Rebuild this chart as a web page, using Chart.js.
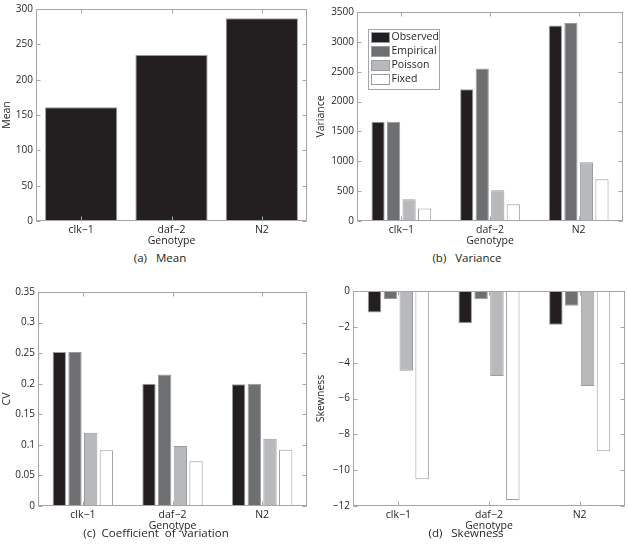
<!DOCTYPE html>
<html>
<head>
<meta charset="utf-8">
<script src="https://cdn.jsdelivr.net/npm/chart.js@4.4.1/dist/chart.umd.min.js"></script>
<style>
body { margin: 0; background: #fff; width: 628px; height: 553px; position: relative; overflow: hidden; font-family: "Open Sans", sans-serif; }
canvas { position: absolute; }
.cap { position: absolute; font-size: 11.5px; color: #231f20; white-space: pre; transform: translateX(-50%); }
</style>
</head>
<body>
<canvas id="cMean" width="314" height="250" style="left:0;top:0"></canvas>
<canvas id="cVar" width="314" height="250" style="left:314px;top:0"></canvas>
<canvas id="cCv" width="314" height="259" style="left:0;top:276px"></canvas>
<canvas id="cSkew" width="314" height="259" style="left:314px;top:276px"></canvas>
<div class="cap" style="left:160px;top:250px">(a)   Mean</div>
<div class="cap" style="left:467px;top:250px">(b)   Variance</div>
<div class="cap" style="left:156px;top:525px">(c)  Coefficient  of  variation</div>
<div class="cap" style="left:466px;top:525px">(d)   Skewness</div>
<script>
// categorias y series
var genotypes = ['clk\u22121', 'daf\u22122', 'N2'];
var seriesNames = ['Observed', 'Empirical', 'Poisson', 'Fixed'];

var meanValues = [161, 235, 287];

var varObserved = [1660, 2205, 3275];
var varEmpirical = [1660, 2555, 3315];
var varPoisson = [365, 515, 985];
var varFixed = [210, 280, 700];

var cvObserved = [0.252, 0.2, 0.199];
var cvEmpirical = [0.252, 0.215, 0.2];
var cvPoisson = [0.12, 0.098, 0.11];
var cvFixed = [0.091, 0.073, 0.092];

var skObserved = [-1.2, -1.8, -1.88];
var skEmpirical = [-0.45, -0.46, -0.82];
var skPoisson = [-4.45, -4.75, -5.3];
var skFixed = [-10.5, -11.67, -8.95];

var yTicksMean = [0, 300, 50];
var yTicksVar = [0, 3500, 500];
var yTicksCv = [0, 0.35, 0.05];
var yTicksSkew = [-12, 0, 2];

var fills = ['#231f20', '#6d6f71', '#b7b9bb', '#ffffff'];
var FONT = '"Open Sans", sans-serif';
var TEXT = '#231f20';
var AXIS = '#a3a5a8';

// caja estilo matlab con ticks hacia dentro
var boxPlugin = {
    id: 'matlabBox',
    afterDraw: function(chart) {
        var ctx = chart.ctx;
        var a = chart.chartArea;
        var ys = chart.scales.y, xs = chart.scales.x;
        ctx.save();
        ctx.strokeStyle = AXIS;
        ctx.lineWidth = 1;
        var l = Math.round(a.left) + 0.5, r = Math.round(a.right) - 0.5;
        var t = Math.round(a.top) + 0.5, b = Math.round(a.bottom) - 0.5;
        ctx.strokeRect(l, t, r - l, b - t);
        ctx.beginPath();
        ys.ticks.forEach(function(tk) {
            var py = Math.round(ys.getPixelForValue(tk.value)) + 0.5;
            ctx.moveTo(l, py); ctx.lineTo(l + 4, py);
            ctx.moveTo(r, py); ctx.lineTo(r - 4, py);
        });
        for (var i = 0; i < genotypes.length; i++) {
            var px = Math.round(xs.getPixelForValue(i)) + 0.5;
            ctx.moveTo(px, b); ctx.lineTo(px, b - 4);
            ctx.moveTo(px, t); ctx.lineTo(px, t + 4);
        }
        ctx.stroke();
        ctx.restore();
    }
};

// leyenda dentro del panel (b)
var legendPlugin = {
    id: 'boxLegend',
    afterDraw: function(chart) {
        if (!chart.options.plugins.boxLegend || !chart.options.plugins.boxLegend.show) return;
        var ctx = chart.ctx;
        var a = chart.chartArea;
        var x0 = Math.round(a.left) + 11.5, y0 = Math.round(a.top) + 17.5;
        ctx.save();
        ctx.fillStyle = '#fff';
        ctx.fillRect(x0, y0, 71, 60);
        ctx.strokeStyle = AXIS;
        ctx.strokeRect(x0, y0, 71, 60);
        ctx.font = '10.5px ' + FONT;
        ctx.textBaseline = 'middle';
        chart.data.datasets.forEach(function(ds, i) {
            var ry = y0 + 3 + i * 14;
            ctx.fillStyle = ds.backgroundColor;
            ctx.fillRect(x0 + 3, ry, 18, 10);
            ctx.strokeStyle = '#9a9c9f';
            ctx.strokeRect(x0 + 3, ry, 18, 10);
            ctx.fillStyle = TEXT;
            ctx.fillText(ds.label, x0 + 23, ry + 5);
        });
        ctx.restore();
    }
};

var makeOptions = function(range, yTitle, pad, yWidth, legend) {
    return {
        responsive: false,
        animation: false,
        layout: { padding: pad },
        plugins: {
            legend: { display: false },
            tooltip: { enabled: false },
            boxLegend: { show: legend }
        },
        scales: {
            x: {
                grid: { display: false, drawTicks: false },
                border: { display: false },
                ticks: { color: TEXT, font: { family: FONT, size: 10.5 }, padding: 3, maxRotation: 0 },
                title: { display: true, text: 'Genotype', color: TEXT, font: { family: FONT, size: 10.5 }, padding: { top: 0, bottom: 3 } },
                afterFit: function(s) { s.height = 29; }
            },
            y: {
                min: range[0],
                max: range[1],
                grid: { display: false, drawTicks: false },
                border: { display: false },
                ticks: {
                    stepSize: range[2],
                    color: TEXT,
                    font: { family: FONT, size: 10 },
                    padding: 3,
                    callback: function(v) { return String(Math.round(v * 100) / 100).replace('-', '\u2212'); }
                },
                title: { display: true, text: yTitle, color: TEXT, font: { family: FONT, size: 10.5, lineHeight: 1 }, padding: { top: 2, bottom: 0 } },
                afterFit: function(s) { s.width = yWidth; }
            }
        }
    };
};

var groupedData = function(series) {
    return {
        labels: genotypes,
        datasets: series.map(function(vals, i) {
            return {
                label: seriesNames[i],
                data: vals,
                backgroundColor: fills[i],
                borderColor: '#9a9c9f',
                borderWidth: 1,
                categoryPercentage: 0.7,
                barPercentage: 0.85
            };
        })
    };
};

new Chart(document.getElementById('cMean').getContext('2d'), {
    type: 'bar',
    data: {
        labels: genotypes,
        datasets: [{
            label: 'Mean',
            data: meanValues,
            backgroundColor: fills[0],
            borderColor: '#9a9c9f',
            borderWidth: 1,
            categoryPercentage: 0.8,
            barPercentage: 1
        }]
    },
    options: makeOptions(yTicksMean, 'Mean', { left: 0, right: 7, top: 6, bottom: 0 }, 36, false),
    plugins: [boxPlugin]
});

new Chart(document.getElementById('cVar').getContext('2d'), {
    type: 'bar',
    data: groupedData([varObserved, varEmpirical, varPoisson, varFixed]),
    options: makeOptions(yTicksVar, 'Variance', { left: 0, right: 5, top: 12, bottom: 0 }, 43, true),
    plugins: [boxPlugin, legendPlugin]
});

new Chart(document.getElementById('cCv').getContext('2d'), {
    type: 'bar',
    data: groupedData([cvObserved, cvEmpirical, cvPoisson, cvFixed]),
    options: makeOptions(yTicksCv, 'CV', { left: 0, right: 7, top: 16, bottom: 0 }, 38, false),
    plugins: [boxPlugin]
});

new Chart(document.getElementById('cSkew').getContext('2d'), {
    type: 'bar',
    data: groupedData([skObserved, skEmpirical, skPoisson, skFixed]),
    options: makeOptions(yTicksSkew, 'Skewness', { left: 0, right: 3, top: 15, bottom: 0 }, 39, false),
    plugins: [boxPlugin]
});
</script>
</body>
</html>
